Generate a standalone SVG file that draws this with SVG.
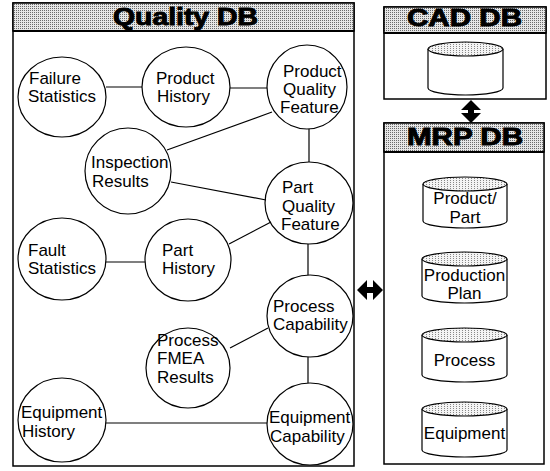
<svg xmlns="http://www.w3.org/2000/svg" width="550" height="471" viewBox="0 0 550 471">
<style>
.box{fill:#fff;stroke:#000;stroke-width:1.5}
.hdr{fill:url(#stip);stroke:#000;stroke-width:1.5}
.hline{stroke:#000;stroke-width:2}
.node{fill:#fff;stroke:#000;stroke-width:1.2}
.lbl{font-family:"Liberation Sans",Arial,sans-serif;font-size:17px;fill:#000}
.title{font-family:"Liberation Sans",Arial,sans-serif;font-weight:bold;font-size:23px;fill:#000;stroke:#000;stroke-width:0.9}
.edge{stroke:#000;stroke-width:1.2;fill:none}
.cyl{fill:#fff;stroke:#000;stroke-width:1.2}
.cyltop{fill:url(#stip2);stroke:#000;stroke-width:1.2}
.arr{fill:#000}
</style>
<defs>
<pattern id="stip" width="2" height="2" patternUnits="userSpaceOnUse">
<rect width="2" height="2" fill="#e6e6e6"/>
<rect width="1" height="1" fill="#6a6a6a"/>
</pattern>
<pattern id="stip2" width="3" height="2" patternUnits="userSpaceOnUse">
<rect width="3" height="2" fill="#f4f4f4"/>
<rect width="1" height="1" fill="#888"/>
</pattern>
</defs>

<g id="quality-db">
<rect class="box" x="13" y="3" width="341" height="463"/>
<rect class="hdr" x="13" y="3" width="341" height="28"/>
<line class="hline" x1="13" y1="31" x2="354" y2="31"/>
<text class="title" x="113" y="25" textLength="145" lengthAdjust="spacingAndGlyphs">Quality DB</text>
</g>

<g id="cad-db">
<rect class="box" x="384" y="7" width="162" height="92"/>
<rect class="hdr" x="384" y="7" width="162" height="26"/>
<line class="hline" x1="384" y1="33" x2="546" y2="33"/>
<text class="title" x="407" y="26" textLength="115" lengthAdjust="spacingAndGlyphs">CAD DB</text>
<path class="cyl" d="M428,49 L428,88 A37.5,7 0 0 0 503,88 L503,49"/>
<ellipse class="cyltop" cx="465.5" cy="49" rx="37.5" ry="7"/>
</g>

<g id="mrp-db">
<rect class="box" x="384" y="123" width="160" height="341"/>
<rect class="hdr" x="384" y="123" width="160" height="29"/>
<line class="hline" x1="384" y1="152" x2="544" y2="152"/>
<text class="title" x="407" y="145" textLength="116" lengthAdjust="spacingAndGlyphs">MRP DB</text>
</g>

<g id="mrp-product-part">
<path class="cyl" d="M423,184 L423,221 A42,7 0 0 0 507,221 L507,184"/>
<ellipse class="cyltop" cx="465" cy="184" rx="42" ry="7"/>
<text class="lbl" x="465" y="204" text-anchor="middle">Product/</text>
<text class="lbl" x="465" y="223" text-anchor="middle">Part</text>
</g>
<g id="mrp-production-plan">
<path class="cyl" d="M422,259 L422,296 A42.5,7 0 0 0 507,296 L507,259"/>
<ellipse class="cyltop" cx="464.5" cy="259" rx="42.5" ry="7"/>
<text class="lbl" x="464.5" y="281" text-anchor="middle">Production</text>
<text class="lbl" x="464.5" y="299" text-anchor="middle">Plan</text>
</g>
<g id="mrp-process">
<path class="cyl" d="M422,335 L422,375 A42.5,7 0 0 0 507,375 L507,335"/>
<ellipse class="cyltop" cx="464.5" cy="335" rx="42.5" ry="7"/>
<text class="lbl" x="464.5" y="366" text-anchor="middle">Process</text>
</g>
<g id="mrp-equipment">
<path class="cyl" d="M422,409 L422,450 A42.5,7 0 0 0 507,450 L507,409"/>
<ellipse class="cyltop" cx="464.5" cy="409" rx="42.5" ry="7"/>
<text class="lbl" x="464.5" y="439" text-anchor="middle">Equipment</text>
</g>

<g id="n-failure-statistics">
<ellipse class="node" cx="62" cy="97" rx="44" ry="40"/>
<text class="lbl" x="29" y="84">Failure</text>
<text class="lbl" x="28" y="102">Statistics</text>
</g>
<g id="n-product-history">
<ellipse class="node" cx="186" cy="87" rx="44" ry="40"/>
<text class="lbl" x="156" y="84">Product</text>
<text class="lbl" x="157" y="102">History</text>
</g>
<g id="n-product-quality-feature">
<ellipse class="node" cx="307" cy="87" rx="40" ry="42"/>
<text class="lbl" x="283" y="77">Product</text>
<text class="lbl" x="283" y="95">Quality</text>
<text class="lbl" x="280" y="113">Feature</text>
</g>
<g id="n-inspection-results">
<ellipse class="node" cx="128" cy="171" rx="43" ry="43"/>
<text class="lbl" x="91" y="168">Inspection</text>
<text class="lbl" x="92" y="187">Results</text>
</g>
<g id="n-part-quality-feature">
<ellipse class="node" cx="309" cy="203" rx="44" ry="41"/>
<text class="lbl" x="282" y="193">Part</text>
<text class="lbl" x="282" y="212">Quality</text>
<text class="lbl" x="281" y="230">Feature</text>
</g>
<g id="n-fault-statistics">
<ellipse class="node" cx="62" cy="259" rx="44" ry="41"/>
<text class="lbl" x="28" y="256">Fault</text>
<text class="lbl" x="28" y="274">Statistics</text>
</g>
<g id="n-part-history">
<ellipse class="node" cx="188" cy="260" rx="43" ry="41"/>
<text class="lbl" x="162" y="256">Part</text>
<text class="lbl" x="162" y="274">History</text>
</g>
<g id="n-process-capability">
<ellipse class="node" cx="310" cy="316" rx="43" ry="41"/>
<text class="lbl" x="273" y="312">Process</text>
<text class="lbl" x="273" y="330">Capability</text>
</g>
<g id="n-process-fmea-results">
<ellipse class="node" cx="188" cy="368" rx="42" ry="40"/>
<text class="lbl" x="157" y="346">Process</text>
<text class="lbl" x="157" y="364">FMEA</text>
<text class="lbl" x="157" y="383">Results</text>
</g>
<g id="n-equipment-history">
<ellipse class="node" cx="62" cy="420" rx="44" ry="42"/>
<text class="lbl" x="21" y="418">Equipment</text>
<text class="lbl" x="22" y="437">History</text>
</g>
<g id="n-equipment-capability">
<ellipse class="node" cx="310" cy="424" rx="43" ry="41"/>
<text class="lbl" x="269" y="423">Equipment</text>
<text class="lbl" x="270" y="442">Capability</text>
</g>

<g id="connectors">
<line class="edge" x1="106" y1="87" x2="142" y2="87"/>
<line class="edge" x1="230" y1="88" x2="267" y2="88"/>
<line class="edge" x1="272" y1="112" x2="167" y2="150"/>
<line class="edge" x1="309" y1="129" x2="309" y2="162"/>
<line class="edge" x1="171" y1="182" x2="266" y2="200"/>
<line class="edge" x1="271" y1="222" x2="229" y2="244"/>
<line class="edge" x1="106" y1="262" x2="145" y2="262"/>
<line class="edge" x1="308" y1="244" x2="308" y2="275"/>
<line class="edge" x1="268" y1="328" x2="230" y2="348"/>
<line class="edge" x1="308" y1="357" x2="308" y2="383"/>
<line class="edge" x1="106" y1="423" x2="267" y2="423"/>
<polygon class="arr" points="471,100 481,110 474,110 474,113 481,113 471,123 461,113 468,113 468,110 461,110"/>
<polygon class="arr" points="357,290 367,280 367,287 373,287 373,280 383,290 373,300 373,293 367,293 367,300"/>
</g>
</svg>
